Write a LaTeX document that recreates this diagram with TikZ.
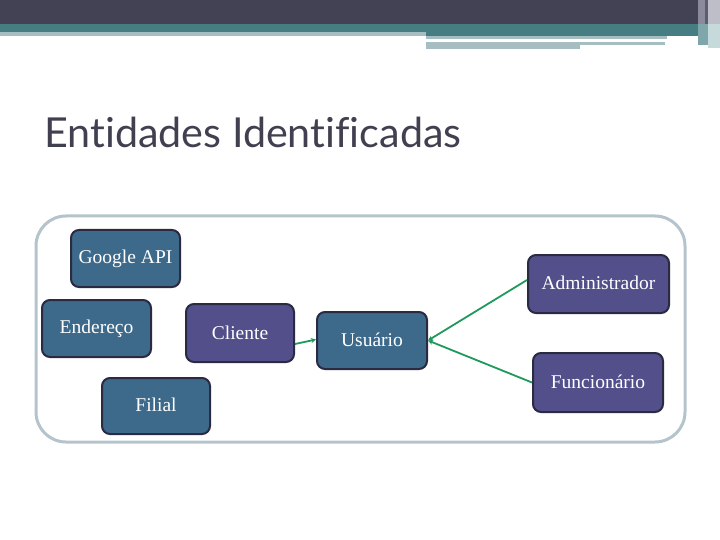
\documentclass[tikz,border=0pt]{standalone}
\usepackage{fontspec}
\setmainfont{Liberation Serif}
\newfontfamily\titlefont[Ligatures={NoCommon}]{Lato}
\usetikzlibrary{arrows.meta}
\definecolor{bardark}{HTML}{424254}
\definecolor{barteal}{HTML}{457D83}
\definecolor{barlight}{HTML}{A6BEC2}
\definecolor{edgeA}{HTML}{8A8A9C}
\definecolor{edgeB}{HTML}{5C5C70}
\definecolor{edgeC}{HTML}{BEBEC8}
\definecolor{edgeD}{HTML}{7FA7AB}
\definecolor{edgeE}{HTML}{C6DADC}
\definecolor{framecol}{HTML}{B5C4CC}
\definecolor{boxteal}{HTML}{3D6A8B}
\definecolor{boxpurple}{HTML}{524F8A}
\definecolor{boxline}{HTML}{2A2A42}
\definecolor{linkgreen}{HTML}{1F9A5C}
\definecolor{titlecol}{HTML}{404050}
\tikzset{
  entity/.style={draw=boxline, line width=2pt, rounded corners=8pt, text=white,
    font=\fontsize{19.5}{21}\selectfont, inner sep=0pt},
  tealbox/.style={entity, fill=boxteal},
  purplebox/.style={entity, fill=boxpurple},
  link/.style={draw=linkgreen, line width=1.8pt, -{Stealth[length=5pt,width=5pt]}},
}
\begin{document}
\begin{tikzpicture}[x=1pt,y=-1pt]
\useasboundingbox (0,0) rectangle (720,540);
\fill[white] (0,0) rectangle (720,540);
% top decoration
\fill[bardark] (0,0) rectangle (698,24);
\fill[barteal] (0,24) rectangle (698,32);
\fill[barlight] (0,32) rectangle (426,36);
\fill[barteal] (426,32) rectangle (698,36);
\fill[barlight] (426,36) rectangle (667,39);
\fill[barlight] (426,42) rectangle (665,45);
\fill[barlight] (426,45) rectangle (580,49);
\fill[edgeA] (698,0) rectangle (705,24);
\fill[edgeB] (705,0) rectangle (708,24);
\fill[edgeC] (708,0) rectangle (720,24);
\fill[edgeD] (698,24) rectangle (708,45);
\fill[edgeE] (708,24) rectangle (720,48);
% title
\node[anchor=base west, inner sep=0pt, text=titlecol, font=\titlefont\fontsize{41.3}{44}\selectfont] (title) at (44,148) {Entidades Identificadas};
% frame
\draw[framecol, line width=3pt, rounded corners=30pt] (36,216) rectangle (685,442);
% entities
\node[tealbox, minimum width=109pt, minimum height=57pt] (gapi) at (125.5,258.5) {\raisebox{2pt}{Google API}};
\node[tealbox, minimum width=109pt, minimum height=57pt] (ende) at (96.5,328.5) {\raisebox{2pt}{Endereço}};
\node[purplebox, minimum width=108pt, minimum height=58pt] (cli) at (240,333) {\raisebox{-3pt}{Cliente}};
\node[tealbox, minimum width=110pt, minimum height=57pt] (usu) at (372,340.5) {\raisebox{1.5pt}{Usuário}};
\node[tealbox, minimum width=108pt, minimum height=56pt] (fil) at (156,406) {\raisebox{2pt}{Filial}};
\node[purplebox, minimum width=141pt, minimum height=58pt] (adm) at (598.5,284) {\raisebox{3pt}{Administrador}};
\node[purplebox, minimum width=130pt, minimum height=59pt] (fun) at (598,382.5) {\raisebox{2pt}{Funcionário}};
% links
\draw[link] ([yshift=-11pt]cli.east) -- ([yshift=1pt]usu.west);
\draw[link] ([yshift=4pt]adm.west) -- (usu.east);
\draw[link] (fun.west) -- (usu.east);
\end{tikzpicture}
\end{document}
